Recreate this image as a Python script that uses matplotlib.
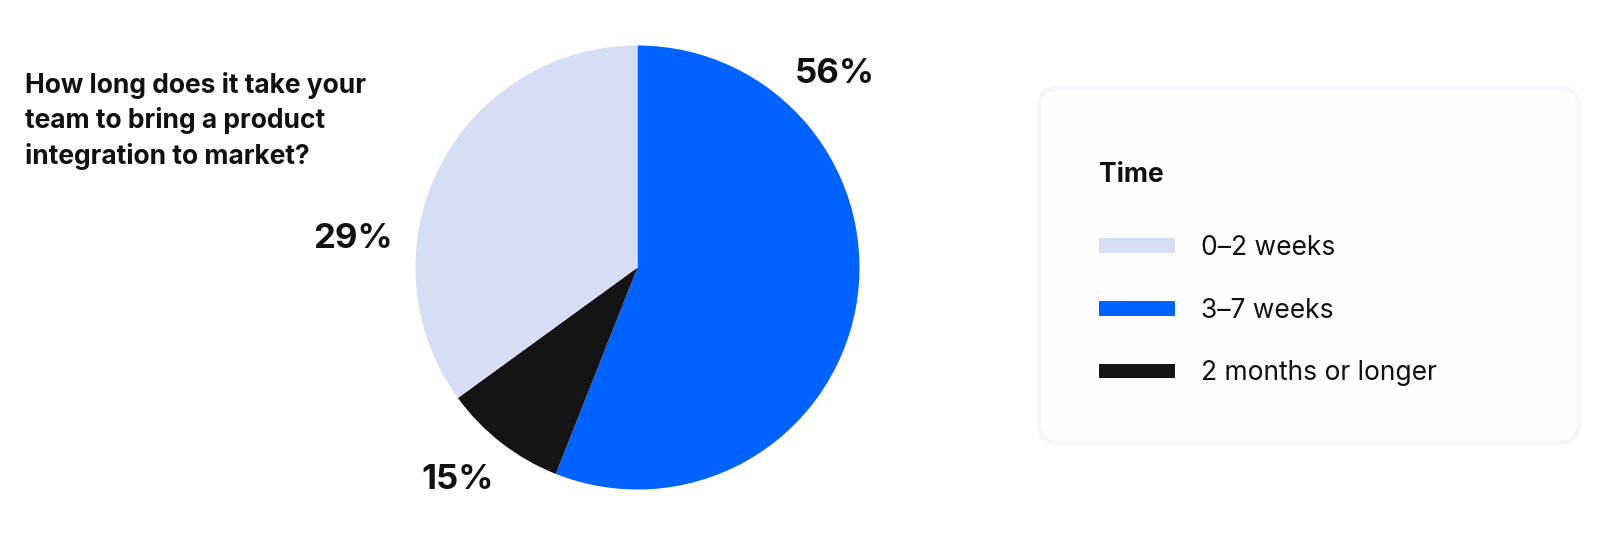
import matplotlib.pyplot as plt
from matplotlib.patches import Patch, FancyBboxPatch

plt.rcParams['font.family'] = ['Inter', 'DejaVu Sans']

# data
categories = ['0–2 weeks', '3–7 weeks', '2 months or longer']
slice_shares = [35, 56, 9]          # wedge sizes as drawn in the picture
label_texts = ['29%', '56%', '15%']  # printed labels
colors = ['#D5DEF2', '#0062FF', '#141417']
question = 'How long does it take your\nteam to bring a product\nintegration to market?'
legend_title = 'Time'

# wedges run clockwise from 12 o'clock: blue, black, light
draw_order = [1, 2, 0]

W, H = 1600, 536
fig = plt.figure(figsize=(W / 100, H / 100), dpi=100)
ax = fig.add_axes([0, 0, 1, 1])


def up(y):
    # image row -> axes y (y axis points up)
    return H - y


cx, cy, r = 637.5, up(267.5), 222
ax.pie([slice_shares[i] for i in draw_order],
       colors=[colors[i] for i in draw_order],
       startangle=90, counterclock=False,
       center=(cx, cy), radius=r,
       wedgeprops=dict(linewidth=0))
ax.set_xlim(0, W)
ax.set_ylim(0, H)
ax.set_aspect('equal')
ax.axis('off')

# percentage labels (offsets from pie centre, in radii)
label_pos = [(-1.28, 0.13), (0.89, 0.87), (-0.81, -0.955)]
for txt, (dx, dy) in zip(label_texts, label_pos):
    ax.text(cx + dx * r, cy + dy * r, txt, ha='center', va='center',
            fontsize=25, fontweight='bold', color='#111111')

# question
ax.text(25, up(72), question, ha='left', va='top', fontsize=19,
        fontweight='bold', color='#111111', linespacing=1.4)

# legend card
card = FancyBboxPatch((1039, up(443)), 540, 355,
                      boxstyle='round,pad=0,rounding_size=20',
                      facecolor='#fefeff', edgecolor='#f6f5f9', linewidth=3)
ax.add_patch(card)
ax.text(1099, up(175.5), legend_title, ha='left', va='center', fontsize=19,
        fontweight='bold', color='#111111')

handles = [Patch(facecolor=c, edgecolor='none') for c in colors]
leg = ax.legend(handles, categories, loc='upper left',
                bbox_to_anchor=(1099 / W, up(235) / H),
                frameon=False, fontsize=19, labelcolor='#111111',
                handlelength=2.88, handleheight=0.47, handletextpad=1.0,
                labelspacing=1.39, borderpad=0, borderaxespad=0)

fig.savefig('out.png', dpi=100, facecolor='white')
